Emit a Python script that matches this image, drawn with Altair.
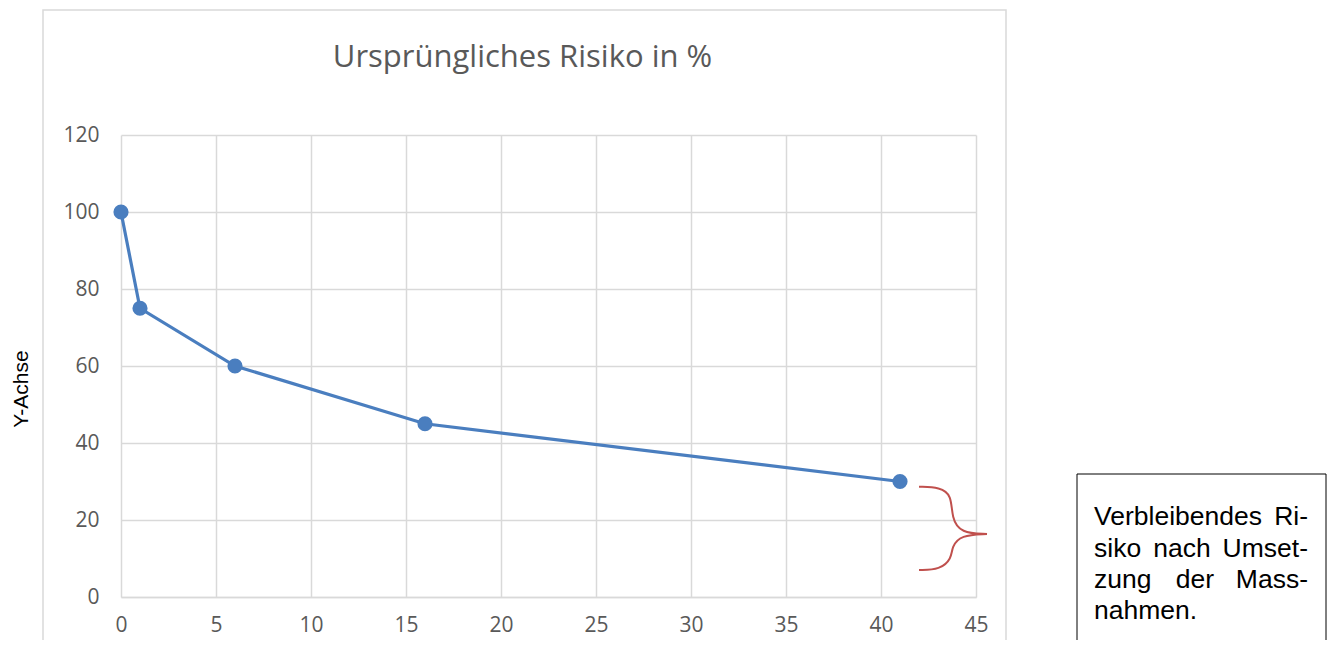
import altair as alt
import pandas as pd

# ---- data ----
x_vals = [0, 1, 6, 16, 41]
y_vals = [100, 75, 60, 45, 30]
x_ticks = [0, 5, 10, 15, 20, 25, 30, 35, 40, 45]
y_ticks = [0, 20, 40, 60, 80, 100, 120]

# curly brace control points (data units), drawn with basis interpolation
brace_arm = ["top"] * 6 + ["bottom"] * 6
brace_x = [42.0, 43.1, 43.72, 43.72, 44.2, 45.58, 45.58, 44.2, 43.72, 43.72, 43.1, 42.0]
brace_y = [28.65, 28.5, 26.5, 20.5, 16.6, 16.36, 16.36, 16.1, 13.0, 10.0, 7.1, 7.0]
brace_order = list(range(12))

title_text = "Ursprüngliches Risiko in %"
y_title = "Y-Achse"
box_lines = [
    ["Verbleibendes", "Ri-"],
    ["siko", "nach", "Umset-"],
    ["zung", "der", "Mass-"],
    ["nahmen."],
]

BLUE = "#4a7ebf"
RED = "#c0504d"
GRID = "#d9d9d9"
LABEL = "#595959"

df = pd.DataFrame({"x": x_vals, "y": y_vals})
brace = pd.DataFrame({"x": brace_x, "y": brace_y, "arm": brace_arm, "o": brace_order})
one = pd.DataFrame({"a": [0]})

xscale = alt.Scale(domain=[0, 45], nice=False, zero=False)
yscale = alt.Scale(domain=[0, 120], nice=False)

xenc = alt.X("x:Q", scale=xscale,
             axis=alt.Axis(values=x_ticks, title=None, grid=True, ticks=False,
                           domain=True, domainColor=GRID, domainWidth=1.5,
                           labelPadding=17, labelFlush=False))
yenc = alt.Y("y:Q", scale=yscale,
             axis=alt.Axis(values=y_ticks, title=None, grid=True, ticks=False,
                           domain=False, labelPadding=22, labelFlush=False))

frame = alt.Chart(one).mark_rect(fill="transparent", stroke=GRID, strokeWidth=1.5).encode(
    x=alt.value(-78), x2=alt.value(885), y=alt.value(-125), y2=alt.value(540))

title = alt.Chart(one).mark_text(
    text=title_text, font="Open Sans", fontSize=31, color=LABEL,
    align="center", baseline="alphabetic").encode(x=alt.value(401.5), y=alt.value(-68))

ytitle = alt.Chart(one).mark_text(
    text=y_title, font="Liberation Sans", fontSize=21, color="black",
    angle=270, align="center", baseline="middle").encode(x=alt.value(-99), y=alt.value(254))

line = alt.Chart(df).mark_line(color=BLUE, strokeWidth=3.2).encode(x=xenc, y=yenc)
pts = alt.Chart(df).mark_point(filled=True, color=BLUE, size=230, opacity=1).encode(
    x="x:Q", y="y:Q")

brace_layer = alt.Chart(brace).mark_line(color=RED, strokeWidth=2, interpolate="basis").encode(
    x="x:Q", y="y:Q", detail="arm:N", order="o:Q")

box = alt.Chart(one).mark_rect(fill="white", stroke="black", strokeWidth=1).encode(
    x=alt.value(956), x2=alt.value(1205), y=alt.value(339), y2=alt.value(540))

# justified text lines inside the box
left_x, right_x = 973, 1187
baselines = [390, 422, 453, 484]
word_layers = []
for i, words in enumerate(box_lines):
    n = len(words)
    for j, w in enumerate(words):
        if n == 1 or j == 0:
            align, px = "left", left_x
        elif j == n - 1:
            align, px = "right", right_x
        else:
            align = "center"
            px = {1: 1061, 2: 1074}[i]
        word_layers.append(
            alt.Chart(one).mark_text(text=w, font="Liberation Sans", fontSize=26.5,
                                     color="black", align=align, baseline="alphabetic")
            .encode(x=alt.value(px), y=alt.value(baselines[i])))

chart = alt.layer(frame, title, ytitle, line, pts, brace_layer, box, *word_layers).properties(
    width=855, height=462,
    autosize=alt.AutoSizeParams(type="none"),
    padding={"left": 113, "top": 127, "right": 351, "bottom": 43},
    background="white",
).configure_view(stroke=None).configure_axis(
    labelFont="Open Sans", labelFontSize=21, labelColor=LABEL,
    gridColor=GRID, gridWidth=1.5,
)

chart.save("out.html", embed_options={"renderer": "svg", "actions": False})
